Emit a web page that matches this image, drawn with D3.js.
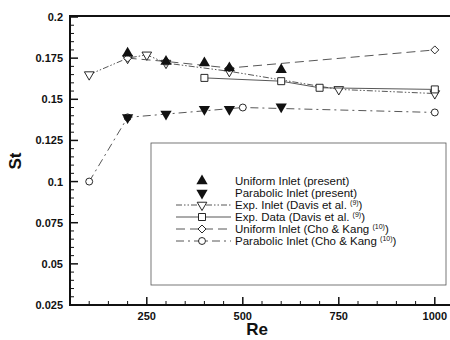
<!DOCTYPE html>
<html>
<head>
<meta charset="utf-8">
<script src="https://cdn.jsdelivr.net/npm/d3@7"></script>
<style>
  body { margin: 0; background: #fff; }
  svg { display: block; }
</style>
</head>
<body>
<svg id="chart"></svg>
<script>
const width = 450, height = 340;
const font_family = "'Liberation Sans', Arial, sans-serif";
const ink = "#111", line_color = "#444";

// data
const uniformRe = [200, 300, 400, 465, 600];
const uniformSt = [0.178, 0.173, 0.172, 0.169, 0.168];
const parabolicRe = [200, 300, 400, 465, 600];
const parabolicSt = [0.139, 0.141, 0.144, 0.144, 0.1455];
const expInletRe = [100, 200, 250, 300, 465, 750, 1000];
const expInletSt = [0.165, 0.175, 0.177, 0.172, 0.167, 0.156, 0.1535];
const expDataRe = [400, 600, 700, 1000];
const expDataSt = [0.163, 0.161, 0.157, 0.156];
const choUniformRe = [200, 300, 465, 1000];
const choUniformSt = [0.175, 0.173, 0.169, 0.180];
const choParabolicRe = [100, 200, 500, 1000];
const choParabolicSt = [0.100, 0.139, 0.145, 0.142];

const xTicks = [250, 500, 750, 1000];
const yTicks = [0.025, 0.05, 0.075, 0.1, 0.125, 0.15, 0.175, 0.2];

const svg = d3.select("#chart")
  .attr("width", width)
  .attr("height", height);

const x = d3.scaleLinear().domain([50, 1050]).range([70, 454]);
const y = d3.scaleLinear().domain([0.025, 0.2]).range([305, 17]);

////////////////////////////////////
//             Axes               //
////////////////////////////////////

// frame (right side runs off the picture)
svg.append("path")
  .attr("d", `M${x(1050)},${y(0.2) - 1}H${x(50)}V${y(0.025)}H${x(1050)}`)
  .attr("fill", "none")
  .attr("stroke", ink)
  .attr("stroke-width", 2);

const xMinor = d3.range(100, 1050, 50);
svg.selectAll(".xtick")
  .data(xMinor)
  .enter().append("line")
  .attr("x1", d => x(d)).attr("x2", d => x(d))
  .attr("y1", y(0.025))
  .attr("y2", d => y(0.025) - (d % 250 === 0 ? 8 : 4))
  .attr("stroke", ink)
  .attr("stroke-width", d => d % 250 === 0 ? 1.5 : 1);

const yMinor = d3.range(0, 36).map(i => 0.025 + i * 0.005);
svg.selectAll(".ytick")
  .data(yMinor)
  .enter().append("line")
  .attr("y1", d => y(d)).attr("y2", d => y(d))
  .attr("x1", x(50))
  .attr("x2", (d, i) => x(50) + (i % 5 === 0 ? 8 : 4))
  .attr("stroke", ink)
  .attr("stroke-width", (d, i) => i % 5 === 0 ? 1.5 : 1);

svg.selectAll(".xlabel")
  .data(xTicks)
  .enter().append("text")
  .attr("x", d => x(d))
  .attr("y", 320)
  .attr("text-anchor", "middle")
  .attr("font-family", font_family)
  .attr("font-weight", "bold")
  .attr("font-size", 11)
  .attr("fill", ink)
  .text(d => d);

svg.selectAll(".ylabel")
  .data(yTicks)
  .enter().append("text")
  .attr("x", 63)
  .attr("y", d => y(d) + 4)
  .attr("text-anchor", "end")
  .attr("font-family", font_family)
  .attr("font-weight", "bold")
  .attr("font-size", 11)
  .attr("fill", ink)
  .text(d => d);

svg.append("text")
  .attr("x", 257).attr("y", 335)
  .attr("text-anchor", "middle")
  .attr("font-family", font_family)
  .attr("font-weight", "bold")
  .attr("font-size", 17)
  .attr("fill", ink)
  .text("Re");

svg.append("text")
  .attr("transform", "translate(21,161) rotate(-90)")
  .attr("text-anchor", "middle")
  .attr("font-family", font_family)
  .attr("font-weight", "bold")
  .attr("font-size", 17)
  .attr("fill", ink)
  .text("St");

////////////////////////////////////
//        Series & Markers        //
////////////////////////////////////

const triUp = d3.symbol().type(d3.symbolTriangle).size(55)();
const triDown = triUp;
const square = "M-3.5,-3.5H3.5V3.5H-3.5Z";
const diamond = "M0,-4L4,0L0,4L-4,0Z";
const circle = d3.symbol().type(d3.symbolCircle).size(38)();
const openTri = d3.symbol().type(d3.symbolTriangle).size(40)();

const series = [
  { re: expInletRe, st: expInletSt, dash: "6,2,1.5,2,1.5,2", mark: openTri, rot: 180 },
  { re: expDataRe, st: expDataSt, dash: null, mark: square, rot: 0 },
  { re: choUniformRe, st: choUniformSt, dash: "9,5", mark: diamond, rot: 0 },
  { re: choParabolicRe, st: choParabolicSt, dash: "8,4,2,4", mark: circle, rot: 0 }
];

const line = d3.line().x(d => x(d[0])).y(d => y(d[1]));

series.forEach(s => {
  const pts = s.re.map((r, i) => [r, s.st[i]]);
  svg.append("path")
    .attr("d", line(pts))
    .attr("fill", "none")
    .attr("stroke", line_color)
    .attr("stroke-width", 0.9)
    .attr("stroke-dasharray", s.dash);
  svg.selectAll(null)
    .data(pts)
    .enter().append("path")
    .attr("d", s.mark)
    .attr("transform", d => `translate(${x(d[0])},${y(d[1])}) rotate(${s.rot})`)
    .attr("fill", "#fff")
    .attr("stroke", ink)
    .attr("stroke-width", 0.9);
});

// filled markers from the present study
svg.selectAll(".uniform")
  .data(uniformRe.map((r, i) => [r, uniformSt[i]]))
  .enter().append("path")
  .attr("d", triUp)
  .attr("transform", d => `translate(${x(d[0])},${y(d[1])})`)
  .attr("fill", ink);

svg.selectAll(".parabolic")
  .data(parabolicRe.map((r, i) => [r, parabolicSt[i]]))
  .enter().append("path")
  .attr("d", triDown)
  .attr("transform", d => `translate(${x(d[0])},${y(d[1])}) rotate(180)`)
  .attr("fill", ink);

////////////////////////////////////
//            Legend              //
////////////////////////////////////

const legend = svg.append("g");
legend.append("rect")
  .attr("x", 151).attr("y", 143)
  .attr("width", 295).attr("height", 142)
  .attr("fill", "#fff")
  .attr("stroke", "#555")
  .attr("stroke-width", 0.8);

const legendItems = [
  { label: "Uniform Inlet (present)", sup: null, tail: "", mark: triUp, rot: 0, fill: ink, line: false, dash: null },
  { label: "Parabolic Inlet (present)", sup: null, tail: "", mark: triDown, rot: 180, fill: ink, line: false, dash: null },
  { label: "Exp. Inlet (Davis et al. ", sup: "(9)", tail: ")", mark: openTri, rot: 180, fill: "#fff", line: true, dash: "6,2,1.5,2,1.5,2" },
  { label: "Exp. Data (Davis et al. ", sup: "(9)", tail: ")", mark: square, rot: 0, fill: "#fff", line: true, dash: null },
  { label: "Uniform Inlet (Cho & Kang ", sup: "(10)", tail: ")", mark: diamond, rot: 0, fill: "#fff", line: true, dash: "9,5" },
  { label: "Parabolic Inlet (Cho & Kang ", sup: "(10)", tail: ")", mark: circle, rot: 0, fill: "#fff", line: true, dash: "8,4,2,4" }
];

legendItems.forEach((item, i) => {
  const ly = 181 + i * 12;
  if (item.line) {
    legend.append("line")
      .attr("x1", 176).attr("x2", 231)
      .attr("y1", ly).attr("y2", ly)
      .attr("stroke", line_color)
      .attr("stroke-width", 0.9)
      .attr("stroke-dasharray", item.dash);
  }
  legend.append("path")
    .attr("d", item.mark)
    .attr("transform", `translate(202,${ly}) rotate(${item.rot})`)
    .attr("fill", item.fill)
    .attr("stroke", item.line ? ink : "none")
    .attr("stroke-width", 0.9);
  const t = legend.append("text")
    .attr("x", 235).attr("y", ly + 4)
    .attr("font-family", font_family)
    .attr("font-size", 11.5)
    .attr("fill", ink)
    .text(item.label);
  if (item.sup) {
    t.append("tspan").attr("dy", -4).attr("font-size", 7).text(item.sup);
    t.append("tspan").attr("dy", 4).text(item.tail);
  }
});
</script>
</body>
</html>
